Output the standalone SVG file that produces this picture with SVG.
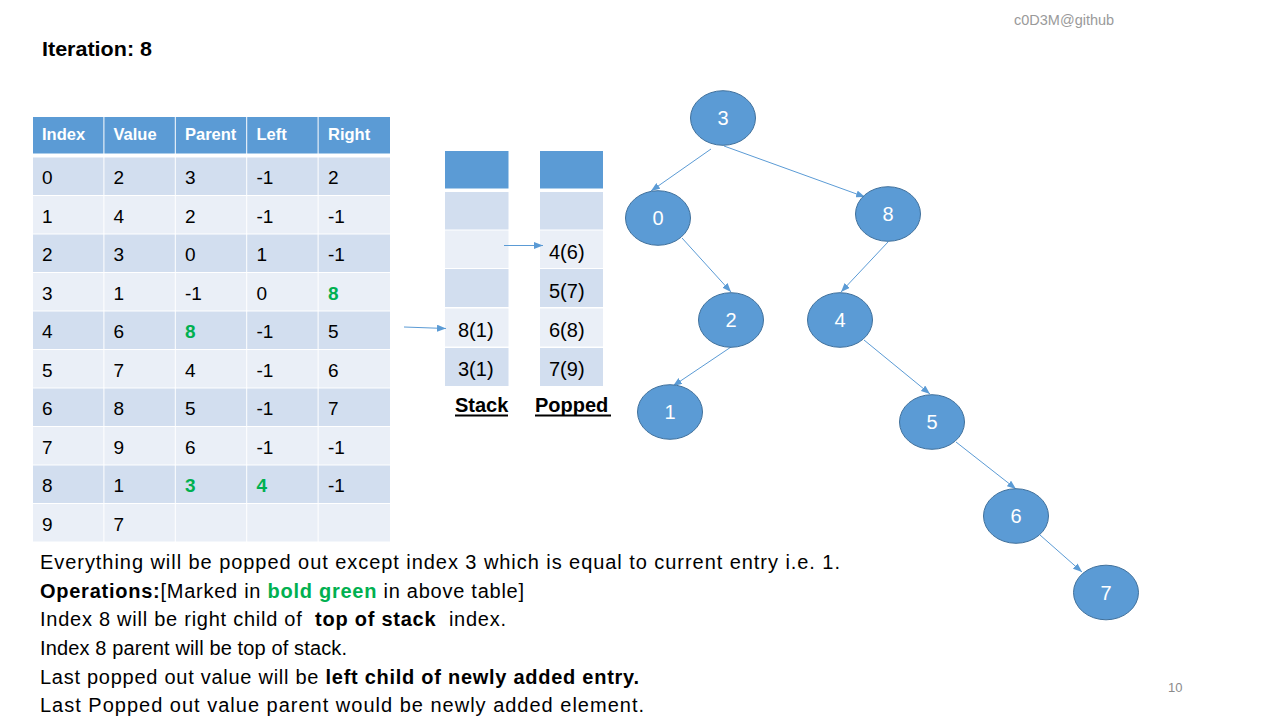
<svg xmlns="http://www.w3.org/2000/svg" width="1280" height="720" viewBox="0 0 1280 720">
<defs>
<style>
text{font-family:"Liberation Sans",Arial,sans-serif;fill:#000;white-space:pre}
.hd{fill:#5B9BD5}
.r1{fill:#D2DEEF}
.r2{fill:#EAEFF7}
.th{font-size:16.5px;font-weight:bold;fill:#fff}
.td{font-size:19px}
.g{fill:#00B050;font-weight:bold}
.st{font-size:20px}
.lbl{font-size:20px;font-weight:bold}
.node ellipse{fill:#5B9BD5;stroke:#41719C;stroke-width:1}
.node text{font-size:20px;fill:#fff;text-anchor:middle}
.edge{stroke:#5B9BD5;stroke-width:1;fill:none;marker-end:url(#ah)}
.body{font-size:20px}
.b{font-weight:bold}
</style>
<marker id="ah" markerWidth="9" markerHeight="7" refX="9" refY="3.5" orient="auto" markerUnits="userSpaceOnUse">
<path d="M0,0 L9,3.5 L0,7 z" fill="#5B9BD5"/>
</marker>
</defs>
<rect width="1280" height="720" fill="#fff"/>

<text x="1014" y="25" style="font-size:14.5px;fill:#9A9A9A">c0D3M@github</text>
<text x="42" y="56" class="b" style="font-size:21px" textLength="110" lengthAdjust="spacingAndGlyphs">Iteration: 8</text>

<g id="table">
<rect class="hd" x="33" y="117" width="70.4" height="36.5"/>
<rect class="hd" x="104.4" y="117" width="70.4" height="36.5"/>
<rect class="hd" x="175.8" y="117" width="70.4" height="36.5"/>
<rect class="hd" x="247.2" y="117" width="70.4" height="36.5"/>
<rect class="hd" x="318.6" y="117" width="71.4" height="36.5"/>
<text class="th" x="42" y="140">Index</text>
<text class="th" x="113.5" y="140">Value</text>
<text class="th" x="185" y="140">Parent</text>
<text class="th" x="256.5" y="140">Left</text>
<text class="th" x="328" y="140">Right</text>

<g id="row0">
<rect class="r1" x="33" y="157.5" width="70.4" height="37.5"/><rect class="r1" x="104.4" y="157.5" width="70.4" height="37.5"/><rect class="r1" x="175.8" y="157.5" width="70.4" height="37.5"/><rect class="r1" x="247.2" y="157.5" width="70.4" height="37.5"/><rect class="r1" x="318.6" y="157.5" width="71.4" height="37.5"/>
<text class="td" x="42" y="184">0</text><text class="td" x="113.5" y="184">2</text><text class="td" x="185" y="184">3</text><text class="td" x="256.5" y="184">-1</text><text class="td" x="328" y="184">2</text>
</g>
<g id="row1">
<rect class="r2" x="33" y="196" width="70.4" height="37.5"/><rect class="r2" x="104.4" y="196" width="70.4" height="37.5"/><rect class="r2" x="175.8" y="196" width="70.4" height="37.5"/><rect class="r2" x="247.2" y="196" width="70.4" height="37.5"/><rect class="r2" x="318.6" y="196" width="71.4" height="37.5"/>
<text class="td" x="42" y="222.5">1</text><text class="td" x="113.5" y="222.5">4</text><text class="td" x="185" y="222.5">2</text><text class="td" x="256.5" y="222.5">-1</text><text class="td" x="328" y="222.5">-1</text>
</g>
<g id="row2">
<rect class="r1" x="33" y="234.5" width="70.4" height="37.5"/><rect class="r1" x="104.4" y="234.5" width="70.4" height="37.5"/><rect class="r1" x="175.8" y="234.5" width="70.4" height="37.5"/><rect class="r1" x="247.2" y="234.5" width="70.4" height="37.5"/><rect class="r1" x="318.6" y="234.5" width="71.4" height="37.5"/>
<text class="td" x="42" y="261">2</text><text class="td" x="113.5" y="261">3</text><text class="td" x="185" y="261">0</text><text class="td" x="256.5" y="261">1</text><text class="td" x="328" y="261">-1</text>
</g>
<g id="row3">
<rect class="r2" x="33" y="273" width="70.4" height="37.5"/><rect class="r2" x="104.4" y="273" width="70.4" height="37.5"/><rect class="r2" x="175.8" y="273" width="70.4" height="37.5"/><rect class="r2" x="247.2" y="273" width="70.4" height="37.5"/><rect class="r2" x="318.6" y="273" width="71.4" height="37.5"/>
<text class="td" x="42" y="299.5">3</text><text class="td" x="113.5" y="299.5">1</text><text class="td" x="185" y="299.5">-1</text><text class="td" x="256.5" y="299.5">0</text><text class="td g" x="328" y="299.5">8</text>
</g>
<g id="row4">
<rect class="r1" x="33" y="311.5" width="70.4" height="37.5"/><rect class="r1" x="104.4" y="311.5" width="70.4" height="37.5"/><rect class="r1" x="175.8" y="311.5" width="70.4" height="37.5"/><rect class="r1" x="247.2" y="311.5" width="70.4" height="37.5"/><rect class="r1" x="318.6" y="311.5" width="71.4" height="37.5"/>
<text class="td" x="42" y="338">4</text><text class="td" x="113.5" y="338">6</text><text class="td g" x="185" y="338">8</text><text class="td" x="256.5" y="338">-1</text><text class="td" x="328" y="338">5</text>
</g>
<g id="row5">
<rect class="r2" x="33" y="350" width="70.4" height="37.5"/><rect class="r2" x="104.4" y="350" width="70.4" height="37.5"/><rect class="r2" x="175.8" y="350" width="70.4" height="37.5"/><rect class="r2" x="247.2" y="350" width="70.4" height="37.5"/><rect class="r2" x="318.6" y="350" width="71.4" height="37.5"/>
<text class="td" x="42" y="376.5">5</text><text class="td" x="113.5" y="376.5">7</text><text class="td" x="185" y="376.5">4</text><text class="td" x="256.5" y="376.5">-1</text><text class="td" x="328" y="376.5">6</text>
</g>
<g id="row6">
<rect class="r1" x="33" y="388.5" width="70.4" height="37.5"/><rect class="r1" x="104.4" y="388.5" width="70.4" height="37.5"/><rect class="r1" x="175.8" y="388.5" width="70.4" height="37.5"/><rect class="r1" x="247.2" y="388.5" width="70.4" height="37.5"/><rect class="r1" x="318.6" y="388.5" width="71.4" height="37.5"/>
<text class="td" x="42" y="415">6</text><text class="td" x="113.5" y="415">8</text><text class="td" x="185" y="415">5</text><text class="td" x="256.5" y="415">-1</text><text class="td" x="328" y="415">7</text>
</g>
<g id="row7">
<rect class="r2" x="33" y="427" width="70.4" height="37.5"/><rect class="r2" x="104.4" y="427" width="70.4" height="37.5"/><rect class="r2" x="175.8" y="427" width="70.4" height="37.5"/><rect class="r2" x="247.2" y="427" width="70.4" height="37.5"/><rect class="r2" x="318.6" y="427" width="71.4" height="37.5"/>
<text class="td" x="42" y="453.5">7</text><text class="td" x="113.5" y="453.5">9</text><text class="td" x="185" y="453.5">6</text><text class="td" x="256.5" y="453.5">-1</text><text class="td" x="328" y="453.5">-1</text>
</g>
<g id="row8">
<rect class="r1" x="33" y="465.5" width="70.4" height="37.5"/><rect class="r1" x="104.4" y="465.5" width="70.4" height="37.5"/><rect class="r1" x="175.8" y="465.5" width="70.4" height="37.5"/><rect class="r1" x="247.2" y="465.5" width="70.4" height="37.5"/><rect class="r1" x="318.6" y="465.5" width="71.4" height="37.5"/>
<text class="td" x="42" y="492">8</text><text class="td" x="113.5" y="492">1</text><text class="td g" x="185" y="492">3</text><text class="td g" x="256.5" y="492">4</text><text class="td" x="328" y="492">-1</text>
</g>
<g id="row9">
<rect class="r2" x="33" y="504" width="70.4" height="37.5"/><rect class="r2" x="104.4" y="504" width="70.4" height="37.5"/><rect class="r2" x="175.8" y="504" width="70.4" height="37.5"/><rect class="r2" x="247.2" y="504" width="70.4" height="37.5"/><rect class="r2" x="318.6" y="504" width="71.4" height="37.5"/>
<text class="td" x="42" y="530.5">9</text><text class="td" x="113.5" y="530.5">7</text>
</g>
</g>

<g id="stack">
<rect class="hd" x="445" y="151" width="63.5" height="37.5"/>
<rect class="r1" x="445" y="192" width="63.5" height="37.5"/>
<rect class="r2" x="445" y="230.5" width="63.5" height="37.5"/>
<rect class="r1" x="445" y="269" width="63.5" height="38"/>
<rect class="r2" x="445" y="308.5" width="63.5" height="38"/>
<rect class="r1" x="445" y="348" width="63.5" height="38"/>
<text class="st" x="458" y="337">8(1)</text>
<text class="st" x="458" y="375.5">3(1)</text>
<text class="lbl" x="455" y="412">Stack</text>
<rect x="455" y="414.5" width="53" height="2" fill="#000"/>
</g>

<g id="popped">
<rect class="hd" x="540" y="151" width="63" height="37.5"/>
<rect class="r1" x="540" y="192" width="63" height="37.5"/>
<rect class="r2" x="540" y="230.5" width="63" height="37.5"/>
<rect class="r1" x="540" y="269" width="63" height="38"/>
<rect class="r2" x="540" y="308.5" width="63" height="38"/>
<rect class="r1" x="540" y="348" width="63" height="38"/>
<text class="st" x="549" y="259">4(6)</text>
<text class="st" x="549" y="297.5">5(7)</text>
<text class="st" x="549" y="337">6(8)</text>
<text class="st" x="549" y="375.5">7(9)</text>
<text class="lbl" x="535" y="412">Popped</text>
<rect x="535" y="414.5" width="76" height="2" fill="#000"/>
</g>

<g id="connectors">
<line class="edge" x1="404" y1="327" x2="446" y2="328.5"/>
<line class="edge" x1="504" y1="245.5" x2="543" y2="245.5"/>
<line class="edge" x1="711" y1="149" x2="651" y2="191"/>
<line class="edge" x1="724" y1="146" x2="865" y2="197"/>
<line class="edge" x1="682" y1="238" x2="731" y2="292"/>
<line class="edge" x1="888" y1="242" x2="841" y2="292"/>
<line class="edge" x1="731" y1="347" x2="673" y2="386"/>
<line class="edge" x1="864" y1="340" x2="930" y2="394"/>
<line class="edge" x1="956" y1="442" x2="1016" y2="489"/>
<line class="edge" x1="1040" y1="535" x2="1082" y2="572"/>
</g>

<g id="n3" class="node"><ellipse cx="723" cy="118" rx="32.5" ry="27.3"/><text x="723" y="125">3</text></g>
<g id="n0" class="node"><ellipse cx="658" cy="218" rx="32.5" ry="27.3"/><text x="658" y="225">0</text></g>
<g id="n8" class="node"><ellipse cx="888" cy="214" rx="32.5" ry="27.3"/><text x="888" y="221">8</text></g>
<g id="n2" class="node"><ellipse cx="731" cy="320" rx="32.5" ry="27.3"/><text x="731" y="327">2</text></g>
<g id="n4" class="node"><ellipse cx="840" cy="320" rx="32.5" ry="27.3"/><text x="840" y="327">4</text></g>
<g id="n1" class="node"><ellipse cx="670" cy="412" rx="32.5" ry="27.3"/><text x="670" y="419">1</text></g>
<g id="n5" class="node"><ellipse cx="932" cy="422" rx="32.5" ry="27.3"/><text x="932" y="429">5</text></g>
<g id="n6" class="node"><ellipse cx="1016" cy="516" rx="32.5" ry="27.3"/><text x="1016" y="523">6</text></g>
<g id="n7" class="node"><ellipse cx="1106" cy="592.5" rx="32.5" ry="27.3"/><text x="1106" y="599.5">7</text></g>

<g id="notes">
<text class="body" x="40" y="569" textLength="800" lengthAdjust="spacing">Everything will be popped out except index 3 which is equal to current entry i.e. 1.</text>
<text class="body" x="40" y="598" textLength="484" lengthAdjust="spacing"><tspan class="b">Operations:</tspan>[Marked in <tspan class="g">bold green</tspan> in above table]</text>
<text class="body" x="40" y="626" textLength="466" lengthAdjust="spacing">Index 8 will be right child of  <tspan class="b">top of stack</tspan>  index.</text>
<text class="body" x="40" y="655" textLength="307" lengthAdjust="spacing">Index 8 parent will be top of stack.</text>
<text class="body" x="40" y="684" textLength="599" lengthAdjust="spacing">Last popped out value will be <tspan class="b">left child of newly added entry.</tspan></text>
<text class="body" x="40" y="712" textLength="604" lengthAdjust="spacing">Last Popped out value parent would be newly added element.</text>
</g>

<text x="1168" y="692" style="font-size:13px;fill:#8B8B8B">10</text>
</svg>
